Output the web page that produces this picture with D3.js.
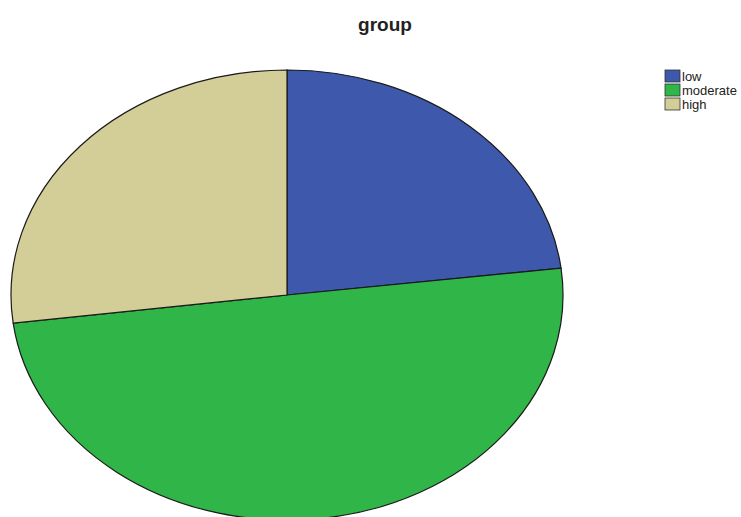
<html>
  <meta charset="utf-8" />
  <script src="https://d3js.org/d3.v7.min.js"></script>
  <style>
    body { margin: 0; background: #fff; overflow: hidden; }
  </style>
  <body>
    <div id="chart"></div>
    <script>
      // slice shares
      var groups = ["low", "moderate", "high"];
      var values = [23.1, 49.9, 27.0];
      var colors = ["#3e58ac", "#2fb548", "#d3ce97"];

      var width = 741, height = 517;
      var cx = 287, cy = 295, rx = 276, ry = 225;

      var svg = d3.select("#chart")
        .append("svg")
        .attr("width", width)
        .attr("height", height)
        .style("display", "block");

      svg.append("text")
        .attr("x", 385)
        .attr("y", 31)
        .attr("text-anchor", "middle")
        .style("font-family", "Arial, 'Liberation Sans', sans-serif")
        .style("font-weight", "bold")
        .style("font-size", "19px")
        .style("fill", "#222")
        .text("group");

      var color = d3.scaleOrdinal().domain(groups).range(colors);

      var pie = d3.pie().sort(null).value(function (d, i) { return values[i]; });
      var arc = d3.arc().innerRadius(0).outerRadius(rx);

      // draw a circle and squash it vertically into the ellipse
      var g = svg.append("g")
        .attr("transform", "translate(" + cx + "," + cy + ") scale(1," + (ry / rx) + ")");

      g.selectAll("path")
        .data(pie(groups))
        .enter()
        .append("path")
        .attr("d", arc)
        .attr("fill", function (d) { return color(d.data); })
        .attr("stroke", "#1a1a1a")
        .attr("stroke-width", 1.2)
        .attr("vector-effect", "non-scaling-stroke");

      var legend = svg.append("g")
        .attr("transform", "translate(665,70)");

      var rows = legend.selectAll("g")
        .data(groups)
        .enter()
        .append("g")
        .attr("transform", function (d, i) { return "translate(0," + i * 14 + ")"; });

      rows.append("rect")
        .attr("width", 15)
        .attr("height", 12)
        .attr("fill", function (d) { return color(d); })
        .attr("stroke", "#333")
        .attr("stroke-width", 0.8);

      rows.append("text")
        .attr("x", 17)
        .attr("y", 10.5)
        .style("font-family", "Arial, 'Liberation Sans', sans-serif")
        .style("font-size", "13px")
        .style("fill", "#222")
        .text(function (d) { return d; });
    </script>
  </body>
</html>
